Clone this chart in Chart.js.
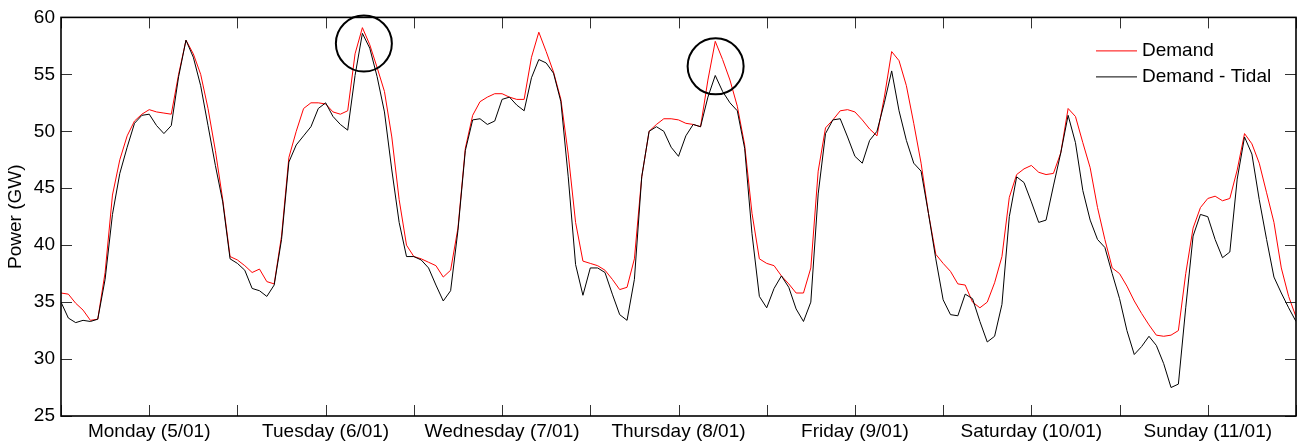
<!DOCTYPE html>
<html>
<head>
<meta charset="utf-8">
<title>Demand and Demand - Tidal</title>
<script src="https://cdn.jsdelivr.net/npm/chart.js@4.4.0/dist/chart.umd.min.js"></script>
<style>
  html, body { margin: 0; padding: 0; background: #fff; overflow: hidden; }
  #wrap { width: 1300px; height: 441px; }
</style>
</head>
<body>
<div id="wrap"><canvas id="power" width="1300" height="441"></canvas></div>
<script>
// hourly values (GW), Monday 5/01 00:00 to Monday 12/01 00:00
var demand = [
  35.8, 35.7, 34.9, 34.3, 33.4, 33.5, 37.6, 44.4, 47.5, 49.6, 50.9, 51.5,
  51.9, 51.7, 51.6, 51.5, 55.0, 58.0, 56.8, 55.0, 52.0, 48.3, 44.0, 39.0,
  38.7, 38.2, 37.6, 37.9, 36.8, 36.6, 40.8, 47.7, 50.0, 52.0, 52.5, 52.5,
  52.4, 51.7, 51.5, 51.8, 56.8, 59.1, 57.6, 55.6, 53.5, 49.5, 44.0, 40.0,
  39.0, 38.8, 38.5, 38.2, 37.2, 37.8, 41.5, 48.5, 51.4, 52.6, 53.0, 53.3,
  53.3, 53.0, 52.8, 52.8, 56.5, 58.7, 57.0, 55.2, 52.8, 48.0, 42.0, 38.6,
  38.4, 38.2, 37.8, 37.0, 36.1, 36.3, 38.8, 46.0, 50.0, 50.6, 51.1, 51.1,
  51.0, 50.7, 50.6, 50.4, 54.5, 57.9, 56.3, 54.5, 52.2, 48.8, 42.8, 38.8,
  38.4, 38.2, 37.3, 36.6, 35.8, 35.8, 38.0, 46.5, 50.3, 51.0, 51.8, 51.9,
  51.7, 51.0, 50.2, 49.6, 53.0, 57.0, 56.2, 54.0, 50.7, 47.2, 42.8, 39.2,
  38.4, 37.7, 36.6, 36.5, 35.0, 34.5, 35.0, 36.7, 39.0, 44.2, 46.2, 46.7,
  47.0, 46.4, 46.2, 46.3, 48.1, 52.0, 51.3, 49.0, 46.8, 43.3, 40.5, 38.0,
  37.5, 36.4, 35.1, 34.0, 33.0, 32.1, 32.0, 32.1, 32.5, 37.5, 41.5, 43.3,
  44.1, 44.3, 43.9, 44.1, 46.6, 49.8, 48.9, 47.2, 44.6, 42.0, 38.0, 35.5,
  33.7
];

var demandTidal = [
  35.0, 33.6, 33.2, 33.4, 33.3, 33.5, 37.0, 42.7, 46.3, 48.6, 50.7, 51.4,
  51.5, 50.5, 49.8, 50.5, 54.8, 58.0, 56.5, 54.0, 50.5, 47.0, 43.8, 38.8,
  38.4, 37.8, 36.2, 36.0, 35.5, 36.5, 40.5, 47.3, 48.8, 49.6, 50.4, 52.0,
  52.5, 51.3, 50.6, 50.1, 54.9, 58.6, 57.3, 54.8, 51.7, 46.6, 42.0, 39.0,
  39.0, 38.7, 38.0, 36.5, 35.1, 36.0, 41.3, 48.3, 51.0, 51.1, 50.6, 50.9,
  52.8, 53.0, 52.3, 51.8, 54.7, 56.3, 56.0, 55.1, 52.6, 46.0, 38.3, 35.6,
  38.0, 38.0, 37.6, 35.7, 33.9, 33.4, 37.0, 46.0, 50.0, 50.4, 50.0, 48.6,
  47.8, 49.6, 50.6, 50.4, 53.0, 54.9, 53.5, 52.5, 51.8, 48.5, 41.0, 35.5,
  34.5, 36.2, 37.3, 36.3, 34.4, 33.3, 35.0, 44.5, 49.8, 51.0, 51.1, 49.5,
  47.8, 47.2, 49.2, 50.0, 52.5, 55.3, 51.8, 49.2, 47.2, 46.5, 42.8, 38.8,
  35.2, 33.9, 33.8, 35.7, 35.3, 33.3, 31.5, 32.0, 34.8, 42.5, 46.0, 45.5,
  43.8, 42.0, 42.2, 45.2, 48.1, 51.4, 49.0, 44.8, 42.2, 40.5, 39.8, 37.5,
  35.3, 32.5, 30.4, 31.1, 32.0, 31.2, 29.6, 27.5, 27.8, 34.5, 40.8, 42.7,
  42.5, 40.5, 38.9, 39.4, 45.8, 49.5, 48.0, 44.0, 40.5, 37.2, 35.8, 34.5,
  33.3
];

var dayLabels = ["Monday (5/01)", "Tuesday (6/01)", "Wednesday (7/01)", "Thursday (8/01)",
  "Friday (9/01)", "Saturday (10/01)", "Sunday (11/01)"];

// circled peaks: [hour, GW]
var peakMarks = [[41.2, 57.7], [89.05, 55.7]];

var FONT = "'Liberation Sans', Arial, sans-serif";
Chart.defaults.color = "#000";
Chart.defaults.font.family = FONT;

function toPoints(arr) {
  return arr.map(function (v, i) {
    return { x: i, y: v };
  });
}

// matlab style box with inward ticks on every side
var boxTicks = {
  id: "boxTicks",
  afterDatasetsDraw: function (chart) {
    var ctx = chart.ctx;
    var a = chart.chartArea;
    var xs = chart.scales.x;
    var ys = chart.scales.y;
    var len = 11;

    ctx.save();
    ctx.strokeStyle = "#333";
    ctx.lineWidth = 1;
    ctx.beginPath();
    xs.ticks.forEach(function (t) {
      var px = Math.round(xs.getPixelForValue(t.value)) + 0.5;
      ctx.moveTo(px, a.top);
      ctx.lineTo(px, a.top + len);
      ctx.moveTo(px, a.bottom);
      ctx.lineTo(px, a.bottom - len);
    });
    ys.ticks.forEach(function (t) {
      var py = Math.round(ys.getPixelForValue(t.value)) + 0.5;
      ctx.moveTo(a.left, py);
      ctx.lineTo(a.left + len, py);
      ctx.moveTo(a.right, py);
      ctx.lineTo(a.right - len, py);
    });
    ctx.stroke();

    ctx.strokeStyle = "#000";
    ctx.lineWidth = 1.6;
    ctx.strokeRect(a.left, a.top, a.right - a.left, a.bottom - a.top);
    ctx.restore();
  }
};

var peakCircles = {
  id: "peakCircles",
  afterDatasetsDraw: function (chart) {
    var ctx = chart.ctx;
    var xs = chart.scales.x;
    var ys = chart.scales.y;
    ctx.save();
    ctx.strokeStyle = "#000";
    ctx.lineWidth = 2;
    peakMarks.forEach(function (p) {
      ctx.beginPath();
      ctx.arc(xs.getPixelForValue(p[0]), ys.getPixelForValue(p[1]), 28, 0, Math.PI * 2);
      ctx.stroke();
    });
    ctx.restore();
  }
};

// legend sits inside the top right corner of the axes
var cornerLegend = {
  id: "cornerLegend",
  afterDraw: function (chart) {
    var ctx = chart.ctx;
    var a = chart.chartArea;
    var items = chart.data.datasets;
    var x0 = a.right - 200;
    ctx.save();
    ctx.font = "19px " + FONT;
    ctx.textBaseline = "middle";
    ctx.textAlign = "left";
    items.forEach(function (ds, i) {
      var y = a.top + 33 + i * 26;
      ctx.strokeStyle = ds.borderColor;
      ctx.lineWidth = 1;
      ctx.beginPath();
      ctx.moveTo(x0, y + 0.5);
      ctx.lineTo(x0 + 41, y + 0.5);
      ctx.stroke();
      ctx.fillStyle = "#000";
      ctx.fillText(ds.label, x0 + 46, y);
    });
    ctx.restore();
  }
};

new Chart(document.getElementById("power"), {
  type: "line",
  data: {
    datasets: [
      {
        label: "Demand",
        data: toPoints(demand),
        borderColor: "#ff0000",
        borderWidth: 1,
        order: 2
      },
      {
        label: "Demand - Tidal",
        data: toPoints(demandTidal),
        borderColor: "#000000",
        borderWidth: 1,
        order: 1
      }
    ]
  },
  options: {
    responsive: false,
    animation: false,
    devicePixelRatio: 1,
    layout: {
      padding: { top: 17, right: 1, bottom: 0, left: 0 }
    },
    elements: {
      point: { radius: 0 },
      line: { tension: 0 }
    },
    plugins: {
      legend: { display: false },
      tooltip: { enabled: false }
    },
    scales: {
      x: {
        type: "linear",
        min: 0,
        max: 168,
        grid: { display: false, drawTicks: false },
        border: { display: false },
        afterBuildTicks: function (scale) {
          var t = [];
          for (var h = 0; h <= 168; h += 12) t.push({ value: h });
          scale.ticks = t;
        },
        afterFit: function (scale) {
          scale.height = 25;
        },
        ticks: {
          autoSkip: false,
          maxRotation: 0,
          padding: 4,
          font: { size: 19 },
          callback: function (v) {
            return v % 24 === 12 ? dayLabels[(v - 12) / 24] : "";
          }
        }
      },
      y: {
        min: 25,
        max: 60,
        grid: { display: false, drawTicks: false },
        border: { display: false },
        afterFit: function (scale) {
          scale.width = 61;
        },
        ticks: {
          stepSize: 5,
          padding: 6,
          font: { size: 19 }
        },
        title: {
          display: true,
          text: "Power (GW)",
          font: { size: 19 },
          padding: { top: 4, bottom: 0 }
        }
      }
    }
  },
  plugins: [boxTicks, peakCircles, cornerLegend]
});
</script>
</body>
</html>
